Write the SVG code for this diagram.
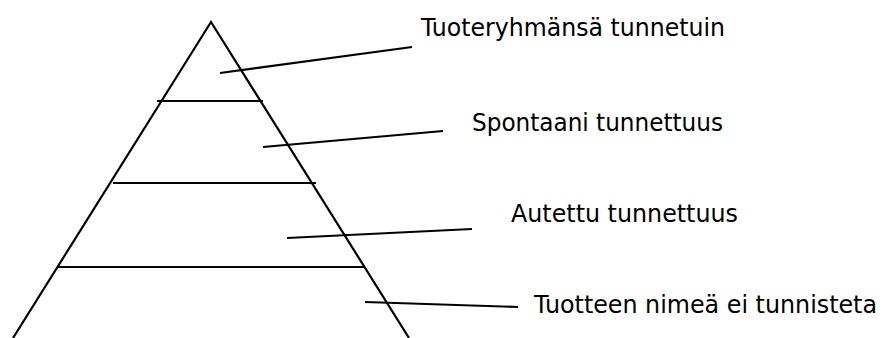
<svg xmlns="http://www.w3.org/2000/svg" width="885" height="338" viewBox="0 0 885 338">
  <style>
    .edge { stroke: #000; stroke-width: 2.2; fill: none; stroke-linecap: butt; }
    .label { font-family: "DejaVu Sans", "Noto Sans", sans-serif; font-size: 25.5px; fill: #000; }
    .label.tight { font-size: 24px; }
  </style>
  <rect width="885" height="338" fill="#fff"/>

  <!-- pyramid outline and level dividers -->
  <g id="pyramid">
    <polyline class="edge" points="13,338 211,22 409,338"/>
    <line class="edge" x1="157" y1="101" x2="263" y2="101"/>
    <line class="edge" x1="113" y1="183" x2="316" y2="183"/>
    <line class="edge" x1="58" y1="267" x2="365" y2="267"/>
  </g>

  <!-- leader lines from each level to its label -->
  <g id="connectors">
    <line class="edge" x1="220" y1="73" x2="412" y2="47"/>
    <line class="edge" x1="263" y1="147" x2="443" y2="131"/>
    <line class="edge" x1="287" y1="238" x2="472" y2="229"/>
    <line class="edge" x1="365" y1="302" x2="518" y2="307"/>
  </g>

  <g id="level-top">
    <text class="label" x="421" y="36" textLength="304" lengthAdjust="spacingAndGlyphs">Tuoteryhmänsä tunnetuin</text>
  </g>
  <g id="level-spontaneous">
    <text class="label" x="472" y="131" textLength="251" lengthAdjust="spacingAndGlyphs">Spontaani tunnettuus</text>
  </g>
  <g id="level-aided">
    <text class="label" x="511" y="222" textLength="227" lengthAdjust="spacingAndGlyphs">Autettu tunnettuus</text>
  </g>
  <g id="level-unknown">
    <text class="label tight" x="534" y="313" textLength="343" lengthAdjust="spacingAndGlyphs">Tuotteen nimeä ei tunnisteta</text>
  </g>
</svg>
